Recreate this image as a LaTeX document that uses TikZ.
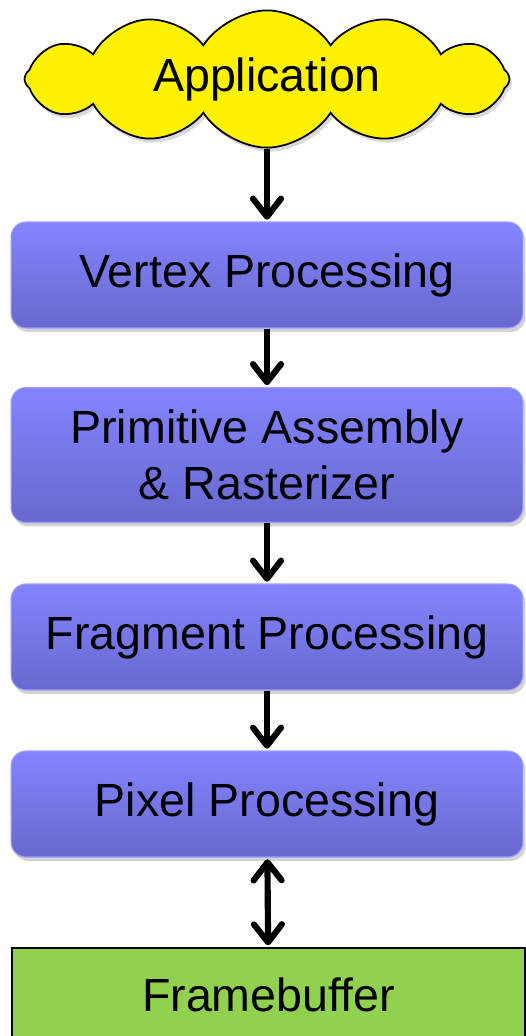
\documentclass[tikz,border=0pt]{standalone}
\usepackage{fontspec}
\setmainfont{Liberation Sans}
\usetikzlibrary{arrows.meta, shapes.symbols, shadows}

\definecolor{stagetop}{RGB}{132,132,255}
\definecolor{stagebot}{RGB}{104,104,206}
\definecolor{fbgreen}{RGB}{146,208,80}

\begin{document}
\begin{tikzpicture}[
    x=0.02cm, y=-0.02cm,
    every node/.style={font=\fontsize{26.5}{32}\selectfont, align=center},
    barb/.tip={Straight Barb[round, length=0.36cm, width=0.56cm]},
    stage/.style={rounded corners=0.3cm, minimum width=10.24cm, minimum height=2.12cm,
        top color=stagetop, bottom color=stagebot, draw=stagetop!80!white, line width=0.6pt,
        drop shadow={opacity=0.35, shadow xshift=0.05cm, shadow yshift=-0.08cm}},
    flow/.style={line width=3.5pt, -barb, shorten >=1pt},
    dflow/.style={line width=3.5pt, barb-barb, shorten >=1pt, shorten <=1pt},
]
\useasboundingbox (0,0) rectangle (525,1036);

% Source of the pipeline
\node[cloud, cloud puffs=12, cloud puff arc=115, draw, line width=1pt, fill=yellow,
      aspect=3.4, minimum width=9.7cm, inner sep=0pt,
      drop shadow={opacity=0.3, shadow xshift=0.05cm, shadow yshift=-0.08cm}]
    (app) at (267,79) {Application};

% Pipeline stages
\node[stage] (vertex) at (267,275) {Vertex Processing};
\node[stage, minimum height=2.7cm] (prim) at (267,455) {Primitive Assembly\\ \& Rasterizer};
\node[stage] (frag) at (267,637) {Fragment Processing};
\node[stage] (pixel) at (267,804) {Pixel Processing};

% Output
\node[draw, line width=1pt, fill=fbgreen, minimum width=10.26cm, minimum height=1.88cm]
    (fb) at (268.5,995) {Framebuffer};

% Connectors
\draw[flow] (app.south) -- (vertex.north);
\draw[flow] (vertex) -- (prim);
\draw[flow] (prim) -- (frag);
\draw[flow] (frag) -- (pixel);
\draw[dflow] (pixel) -- (fb);

\end{tikzpicture}
\end{document}
